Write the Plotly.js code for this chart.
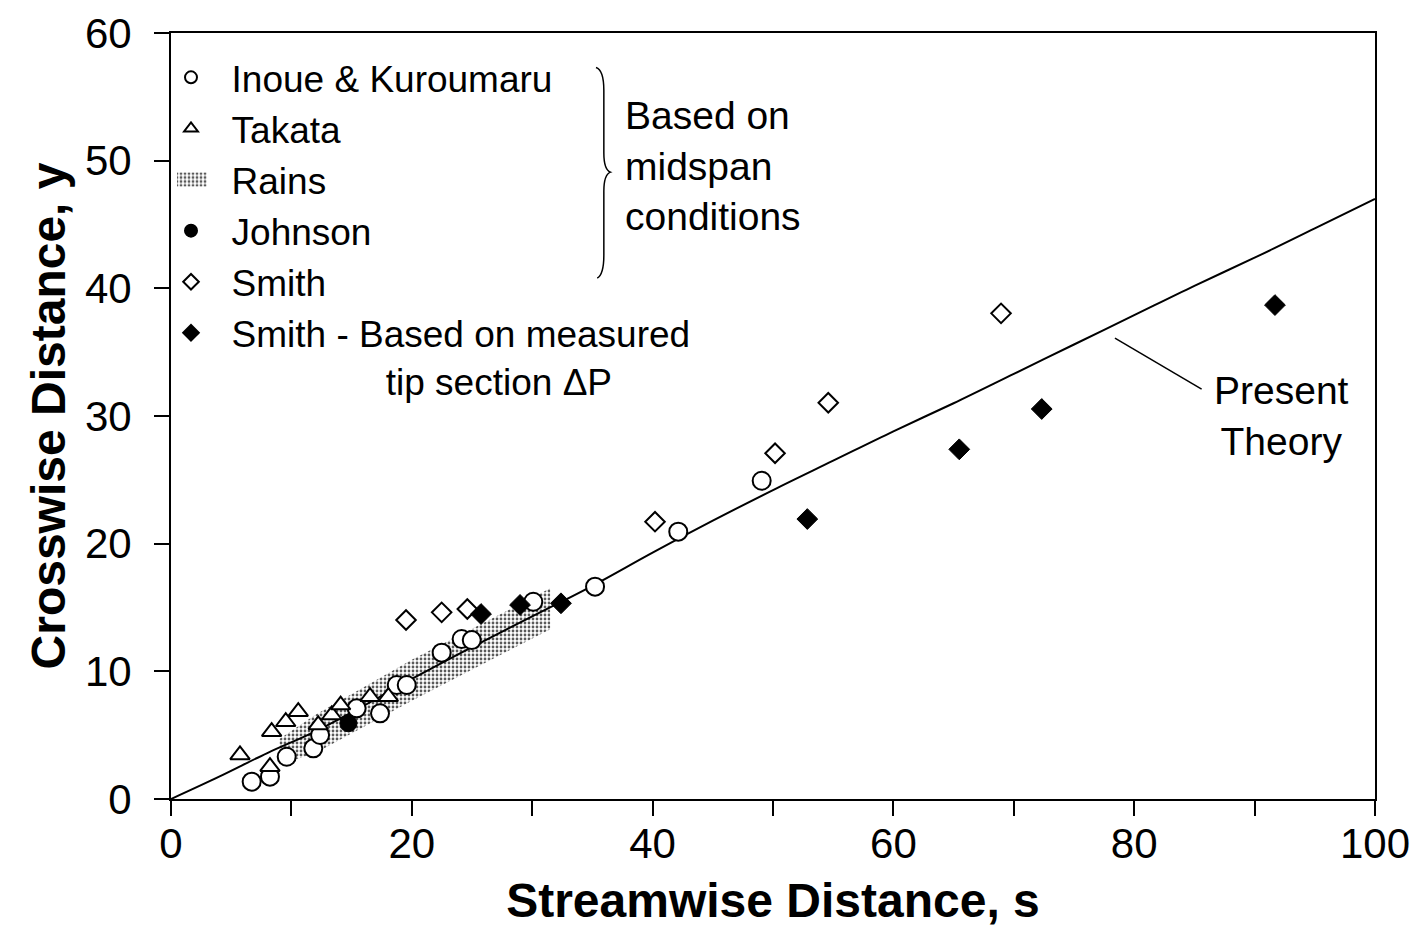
<!DOCTYPE html>
<html>
<head>
<meta charset="utf-8">
<script src="https://cdn.plot.ly/plotly-3.0.1.min.js"></script>
<style>
html,body{margin:0;padding:0;background:#fff;}
#chart{width:1420px;height:927px;}
</style>
</head>
<body>
<div id="chart"></div>
<script>
// ---- data ----
const inoueS = [6.70, 8.22, 9.61, 11.82, 12.38, 15.42, 17.36, 18.75, 19.58, 22.48, 24.14, 24.98, 30.09, 35.22, 42.13, 49.06];
const inoueY = [1.36, 1.75, 3.31, 3.97, 5.01, 7.10, 6.71, 8.93, 8.93, 11.46, 12.53, 12.45, 15.45, 16.63, 20.94, 24.93];

const takataS = [5.73, 8.36, 9.53, 10.57, 8.22, 12.23, 13.35, 14.09, 16.53, 18.05];
const takataY = [3.45, 5.27, 6.05, 6.84, 2.53, 5.80, 6.58, 7.36, 8.01, 8.01];

const johnsonS = [14.73];
const johnsonY = [5.93];

const smithS = [19.52, 22.48, 24.61, 40.20, 50.17, 54.59, 68.94];
const smithY = [14.02, 14.62, 14.88, 21.72, 27.08, 31.04, 38.04];

const smithTipS = [25.75, 28.99, 32.39, 52.85, 65.47, 72.32, 91.69];
const smithTipY = [14.49, 15.20, 15.33, 21.93, 27.39, 30.55, 38.69];

// Rains band outline (upper edge left->right, then lower edge right->left)
const rainsS = [9, 12, 20, 31.5, 31.5, 20, 12, 9];
const rainsY = [4.7, 6.6, 10.9, 16.5, 13.3, 7.7, 3.6, 2.7];

const theoryS = [0, 4, 8, 12, 16, 20, 25, 30, 35, 40, 45, 50, 55, 60, 65, 70, 75, 80, 85, 90, 95, 100];
const theoryY = [0, 1.75, 3.6, 5.3, 7.3, 9.4, 11.9, 14.3, 16.7, 19.3, 21.8, 24.2, 26.5, 28.8, 31.0, 33.3, 35.6, 37.9, 40.2, 42.4, 44.7, 47.0];

const xTicks = [0, 20, 40, 60, 80, 100];
const xMinorTicks = [10, 30, 50, 70, 90];
const yTicks = [0, 10, 20, 30, 40, 50, 60];

const legendNames = ['Inoue & Kuroumaru', 'Takata', 'Rains', 'Johnson', 'Smith',
  'Smith - Based on measured<br>' + '\u00A0'.repeat(17) + 'tip section \u0394P'];

// ---- styling ----
const FONT = 'Liberation Sans, Arial, Helvetica, sans-serif';
const NB = '\u00A0\u00A0';

const traces = [
  {x: rainsS, y: rainsY, type: 'scatter', mode: 'none', fill: 'toself',
   fillcolor: 'rgba(0,0,0,0)',
   fillpattern: {shape: '.', fgcolor: '#5a5a5a', bgcolor: '#fff', size: 4, solidity: 0.38},
   name: NB + legendNames[2], legendrank: 3, hoverinfo: 'skip'},
  {x: theoryS, y: theoryY, type: 'scatter', mode: 'lines', line: {color: '#000', width: 2, shape: 'spline'},
   showlegend: false, hoverinfo: 'skip'},
  {x: inoueS, y: inoueY, type: 'scatter', mode: 'markers', name: NB + legendNames[0], legendrank: 1,
   marker: {symbol: 'circle', size: 18, color: '#fff', line: {color: '#000', width: 2}}},
  {x: takataS, y: takataY, type: 'scatter', mode: 'markers', name: NB + legendNames[1], legendrank: 2,
   marker: {symbol: 'triangle-up', size: 17, color: '#fff', line: {color: '#000', width: 2}}},
  {x: johnsonS, y: johnsonY, type: 'scatter', mode: 'markers', name: NB + legendNames[3], legendrank: 4,
   marker: {symbol: 'circle', size: 17, color: '#000', line: {color: '#000', width: 1}}},
  {x: smithS, y: smithY, type: 'scatter', mode: 'markers', name: NB + legendNames[4], legendrank: 5,
   marker: {symbol: 'diamond', size: 15, color: '#fff', line: {color: '#000', width: 2}}},
  {x: smithTipS, y: smithTipY, type: 'scatter', mode: 'markers', name: NB + legendNames[5], legendrank: 6,
   marker: {symbol: 'diamond', size: 16, color: '#000', line: {color: '#000', width: 1}}}
];

const layout = {
  width: 1420, height: 927,
  margin: {l: 171, r: 45, t: 33, b: 128},
  paper_bgcolor: '#fff', plot_bgcolor: '#fff',
  font: {family: FONT, color: '#000', size: 39},
  showlegend: true,
  legend: {x: 0.0, y: 0.982, xanchor: 'left', yanchor: 'top', bgcolor: 'rgba(0,0,0,0)',
           font: {family: FONT, size: 37, color: '#000'}, itemsizing: 'constant', valign: 'top',
           tracegroupgap: 0, traceorder: 'normal'},
  xaxis: {range: [0, 100], tickmode: 'array', tickvals: xTicks, ticktext: xTicks.map(String),
          ticks: 'outside', ticklen: 15, tickwidth: 2, tickcolor: '#000',
          minor: {tickmode: 'array', tickvals: xMinorTicks, ticks: 'outside', ticklen: 15, tickwidth: 2, tickcolor: '#000', showgrid: false},
          showline: true, linecolor: '#000', linewidth: 2, mirror: true,
          showgrid: false, zeroline: false, ticklabelstandoff: -8,
          tickfont: {family: FONT, size: 42, color: '#000'},
          title: {text: 'Streamwise Distance, s', font: {family: FONT, size: 48, color: '#000', weight: 'bold'}, standoff: 19}},
  yaxis: {range: [0, 60], tickmode: 'array', tickvals: yTicks, ticktext: yTicks.map(String),
          ticks: 'outside', ticklen: 15, tickwidth: 2, tickcolor: '#000',
          showline: true, linecolor: '#000', linewidth: 2, mirror: true,
          showgrid: false, zeroline: false, ticklabelstandoff: 14,
          tickfont: {family: FONT, size: 42, color: '#000'},
          title: {text: 'Crosswise Distance, y', font: {family: FONT, size: 48, color: '#000', weight: 'bold'}, standoff: 4}},
  annotations: [
    {x: 37.5, y: 49.6, xref: 'x', yref: 'y', xanchor: 'left', yanchor: 'middle', align: 'left', showarrow: false,
     text: 'Based on<br>midspan<br>conditions', font: {family: FONT, size: 39, color: '#000'}},
    {x: 92.2, y: 30.0, xref: 'x', yref: 'y', xanchor: 'center', yanchor: 'middle', align: 'center', showarrow: false,
     text: 'Present<br>Theory', font: {family: FONT, size: 39, color: '#000'}}
  ],
  shapes: [
    {type: 'path', xref: 'x', yref: 'y', line: {color: '#000', width: 1.5},
     path: 'M 35.3 57.3 Q 35.95 57.1 35.95 55.5 L 35.95 50.6 Q 35.95 49.3 36.5 49.1 Q 35.95 48.9 35.95 47.6 L 35.95 42.6 Q 35.95 41.1 35.4 40.8'},
    {type: 'line', xref: 'x', yref: 'y', x0: 78.4, y0: 36.1, x1: 85.6, y1: 32.1, line: {color: '#000', width: 1.5}}
  ]
};

Plotly.newPlot('chart', traces, layout, {displayModeBar: false, staticPlot: true}).then(function (gd) {
  // enlarge the Rains legend swatch to a dotted rectangle like the original key
  gd.querySelectorAll('.legend .legendfill path').forEach(function (p) {
    p.setAttribute('d', 'M6,-7h30v14h-30z');
  });
});
</script>
</body>
</html>
